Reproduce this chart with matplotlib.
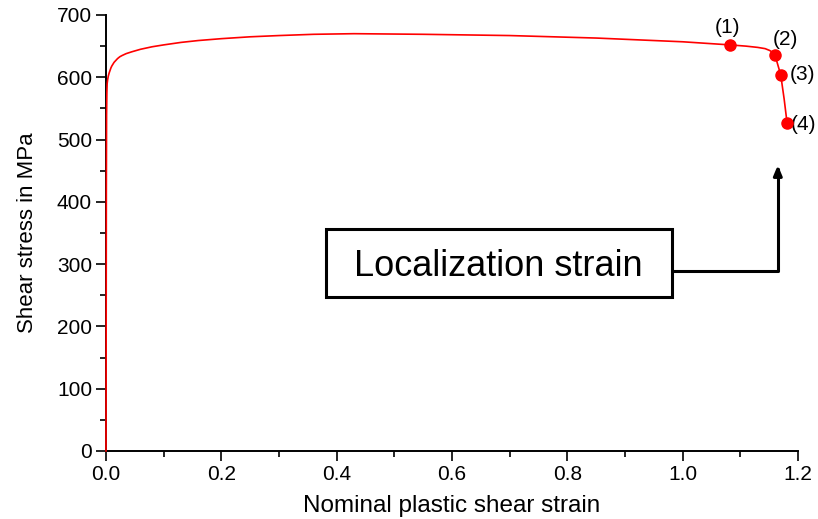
import matplotlib.pyplot as plt
import numpy as np
from matplotlib.patches import Rectangle

# ============= taille
my_dpi = 100
plt.rcParams['font.family'] = ['Liberation Sans', 'DejaVu Sans']

# courbe contrainte / deformation
strain = [0.0, 0.0003, 0.0006, 0.001, 0.0015, 0.002, 0.003, 0.004, 0.0055, 0.007,
          0.0085, 0.010, 0.012, 0.014, 0.017, 0.020, 0.024, 0.028, 0.035, 0.045,
          0.06, 0.08, 0.10, 0.13, 0.16, 0.20, 0.25, 0.30, 0.36, 0.43,
          0.55, 0.70, 0.85, 1.0, 1.082, 1.11, 1.13, 1.143, 1.151, 1.156,
          1.160, 1.165, 1.170, 1.176, 1.181]
stress = [0.0, 200, 420, 540, 575, 590, 597, 602, 607, 611,
          615, 618, 621, 624, 627, 630, 633, 635, 638, 641,
          645, 649, 652, 656, 659, 662, 665, 667, 669, 670,
          669, 667, 663, 657, 652, 650, 648, 646, 643, 640,
          636, 620, 604, 565, 527]

# points marques (1)..(4)
pt_strain = [1.082, 1.160, 1.170, 1.181]
pt_stress = [652, 636, 604, 527]
pt_labels = ["(1)", "(2)", "(3)", "(4)"]
pt_label_pos = [(1.077, 680), (1.178, 660), (1.208, 605), (1.209, 525)]

# boite "Localization strain"
box_x = [0.381, 0.981]
box_y = [247, 356]
arrow_y = 289
arrow_x = 1.165
arrow_top = 459

fig = plt.figure(figsize=(818 / my_dpi, 519 / my_dpi), dpi=my_dpi)
ax = fig.add_axes([106 / 818, 1 - 451 / 519, 692 / 818, 436 / 519])

ax.plot(strain, stress, color="red", linewidth=1.2, clip_on=False, zorder=5)
ax.plot(pt_strain, pt_stress, "o", color="red", markersize=8, clip_on=False, zorder=6)
for lab, (lx, ly) in zip(pt_labels, pt_label_pos):
    ax.text(lx, ly, lab, fontsize=15, ha="center", va="center", clip_on=False)

ax.add_patch(Rectangle((box_x[0], box_y[0]), box_x[1] - box_x[0], box_y[1] - box_y[0],
                       fill=False, edgecolor="black", linewidth=2.2, zorder=4))
ax.text((box_x[0] + box_x[1]) / 2, (box_y[0] + box_y[1]) / 2 - 5, "Localization strain",
        fontsize=26, ha="center", va="center")
ax.annotate("", xy=(arrow_x, arrow_top), xytext=(box_x[1], arrow_y),
            arrowprops=dict(arrowstyle="-|>,head_length=0.6,head_width=0.25",
                            connectionstyle="angle,angleA=0,angleB=90,rad=0",
                            lw=2.2, color="black", shrinkA=0, shrinkB=0))

ax.set_xlim(0, 1.2)
ax.set_ylim(0, 700)
ax.set_xticks(np.arange(0, 1.21, 0.2))
ax.set_xticks(np.arange(0.1, 1.2, 0.2), minor=True)
ax.set_yticks(np.arange(0, 701, 100))
ax.set_yticks(np.arange(50, 700, 100), minor=True)
ax.set_xticklabels(["0.0", "0.2", "0.4", "0.6", "0.8", "1.0", "1.2"])

ax.spines["top"].set_visible(False)
ax.spines["right"].set_visible(False)
ax.spines["left"].set_linewidth(1.4)
ax.spines["bottom"].set_linewidth(1.4)
ax.tick_params(which="major", direction="out", length=7, width=1.2, labelsize=15, pad=3)
ax.tick_params(which="minor", direction="out", length=4, width=1.2)

ax.set_xlabel("Nominal plastic shear strain", fontsize=17.5, labelpad=8)
ax.set_ylabel("Shear stress in MPa", fontsize=16, labelpad=14)

plt.savefig("out.png", dpi=my_dpi)
